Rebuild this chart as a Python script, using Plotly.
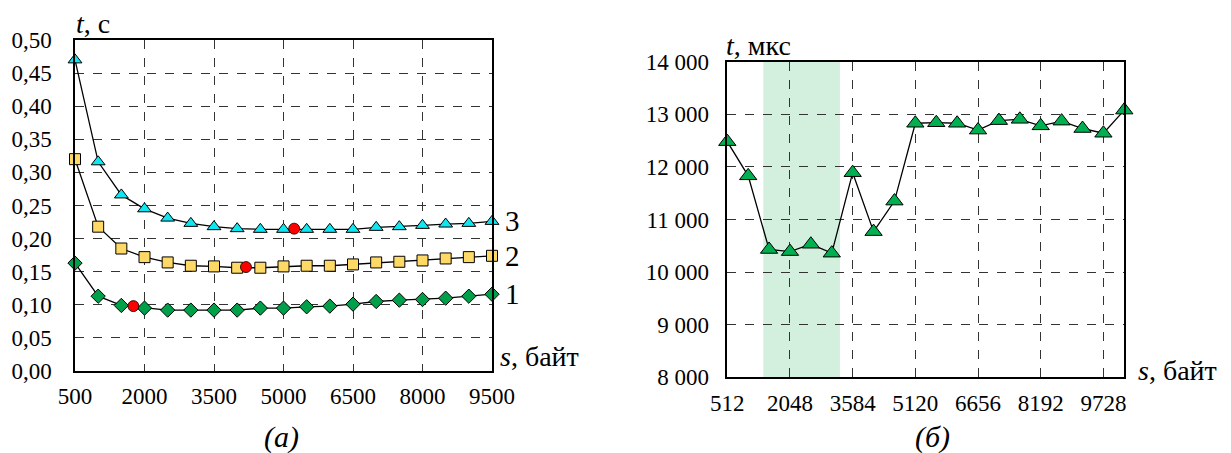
import plotly.graph_objects as go

# ---- data: panel (a) ----
s_a = [500, 1000, 1500, 2000, 2500, 3000, 3500, 4000, 4500, 5000,
       5500, 6000, 6500, 7000, 7500, 8000, 8500, 9000, 9500]
t1 = [0.163, 0.113, 0.099, 0.095, 0.092, 0.092, 0.092, 0.092, 0.095, 0.095,
      0.097, 0.098, 0.101, 0.105, 0.107, 0.108, 0.110, 0.113, 0.116]
t2 = [0.320, 0.218, 0.185, 0.172, 0.164, 0.159, 0.158, 0.156, 0.156, 0.158,
      0.159, 0.159, 0.161, 0.164, 0.165, 0.167, 0.170, 0.172, 0.174]
t3 = [0.470, 0.316, 0.266, 0.245, 0.231, 0.223, 0.218, 0.215, 0.214, 0.214,
      0.214, 0.214, 0.214, 0.217, 0.218, 0.220, 0.222, 0.223, 0.226]
opt_s = [1760, 4190, 5230]
opt_t = [0.098, 0.157, 0.215]
curve_labels = ["1", "2", "3"]

# ---- data: panel (б) ----
s_b = [512, 1024, 1536, 2048, 2560, 3072, 3584, 4096, 4608, 5120,
       5632, 6144, 6656, 7168, 7680, 8192, 8704, 9216, 9728, 10240]
t_b = [12480, 11830, 10430, 10390, 10530, 10360, 11890, 10770, 11350, 12830,
       12840, 12830, 12700, 12880, 12905, 12780, 12870, 12730, 12640, 13080]
band = [1394, 3273]
ticks_b = [512, 2048, 3584, 5120, 6656, 8192, 9728]
yticks_b = [8000, 9000, 10000, 11000, 12000, 13000, 14000]
yticklabels_b = ["8 000", "9 000", "10 000", "11 000", "12 000", "13 000", "14 000"]
yticks_a = [0, 0.05, 0.10, 0.15, 0.20, 0.25, 0.30, 0.35, 0.40, 0.45, 0.50]

FONT = "Liberation Serif"
LINE = dict(color="black", width=1.3)

fig = go.Figure()

fig.add_trace(go.Scatter(x=s_a, y=t1, mode="lines+markers", line=LINE,
                         marker=dict(symbol="diamond", size=11, color="#00A04A",
                                     line=dict(color="black", width=1)),
                         xaxis="x", yaxis="y", showlegend=False, cliponaxis=False))
fig.add_trace(go.Scatter(x=s_a, y=t2, mode="lines+markers", line=LINE,
                         marker=dict(symbol="square", size=11, color="#FFD966",
                                     line=dict(color="black", width=1)),
                         xaxis="x", yaxis="y", showlegend=False, cliponaxis=False))
fig.add_trace(go.Scatter(x=s_a, y=t3, mode="lines+markers", line=LINE,
                         marker=dict(symbol="triangle-up", size=12, color="#10E6F2",
                                     line=dict(color="black", width=1)),
                         xaxis="x", yaxis="y", showlegend=False, cliponaxis=False))
fig.add_trace(go.Scatter(x=opt_s, y=opt_t, mode="markers",
                         marker=dict(symbol="circle", size=11, color="#FF0000",
                                     line=dict(color="black", width=0.8)),
                         xaxis="x", yaxis="y", showlegend=False))

fig.add_trace(go.Scatter(x=s_b, y=t_b, mode="lines+markers", line=LINE,
                         marker=dict(symbol="triangle-up", size=15, color="#00B050",
                                     line=dict(color="black", width=1)),
                         xaxis="x2", yaxis="y2", showlegend=False, cliponaxis=False))

fig.add_shape(type="rect", xref="x2", yref="y2", x0=band[0], x1=band[1],
              y0=8000, y1=14000, fillcolor="#D3F0DF", line=dict(width=0), layer="below")

grid = dict(showgrid=True, gridcolor="#333333", griddash="dash", gridwidth=1)
axcommon = dict(showline=True, linecolor="black", linewidth=1.5, mirror=True,
                ticks="", zeroline=False, automargin=False,
                tickfont=dict(family=FONT, size=23, color="black"))

fig.update_layout(
    width=1231, height=453,
    margin=dict(l=0, r=0, t=0, b=0, autoexpand=False),
    plot_bgcolor="white", paper_bgcolor="white",
    font=dict(family=FONT, color="black"),
    xaxis=dict(domain=[75/1231, 492/1231], range=[500, 9500],
               tickmode="array", tickvals=[500, 2000, 3500, 5000, 6500, 8000, 9500],
               ticklabelstandoff=4, anchor="y", **grid, **axcommon),
    yaxis=dict(domain=[(453-371)/453, (453-40)/453], range=[0, 0.5],
               tickmode="array", tickvals=yticks_a,
               ticktext=[f"{v:.2f}".replace(".", ",") for v in yticks_a],
               ticklabelstandoff=17, anchor="x", **grid, **axcommon),
    xaxis2=dict(domain=[727.3/1231, 1124.3/1231], range=[512, 10240],
                tickmode="array", tickvals=ticks_b,
                ticklabelstandoff=4, anchor="y2", **grid, **axcommon),
    yaxis2=dict(domain=[(453-377.3)/453, (453-61.7)/453], range=[8000, 14000],
                tickmode="array", tickvals=yticks_b, ticktext=yticklabels_b,
                ticklabelstandoff=12, anchor="x2", **grid, **axcommon),
)

ann_font = dict(family=FONT, size=28, color="black")
annotations = [
    dict(text="<i>t</i>, с", x=74/1231, y=(453-23)/453, xanchor="left", yanchor="middle"),
    dict(text="<i>s</i>, байт", x=498/1231, y=(453-356)/453, xanchor="left", yanchor="middle"),
    dict(text="<i>t</i>, мкс", x=724/1231, y=(453-46)/453, xanchor="left", yanchor="middle"),
    dict(text="<i>s</i>, байт", x=1136/1231, y=(453-370)/453, xanchor="left", yanchor="middle"),
    dict(text="<i>(а)</i>", x=281/1231, y=(453-437)/453, xanchor="center", yanchor="middle",
         font=dict(family=FONT, size=30, color="black")),
    dict(text="<i>(б)</i>", x=932/1231, y=(453-437)/453, xanchor="center", yanchor="middle",
         font=dict(family=FONT, size=30, color="black")),
]
for a in annotations:
    a.setdefault("font", ann_font)
    fig.add_annotation(xref="paper", yref="paper", showarrow=False, **a)

for lab, yv in zip(curve_labels, [t1[-1], t2[-1], t3[-1]]):
    fig.add_annotation(xref="x", yref="y", x=9500, y=yv, text=lab, showarrow=False,
                       xanchor="left", yanchor="middle", xshift=11,
                       font=dict(family=FONT, size=29, color="black"))

fig.write_html("out.html")
